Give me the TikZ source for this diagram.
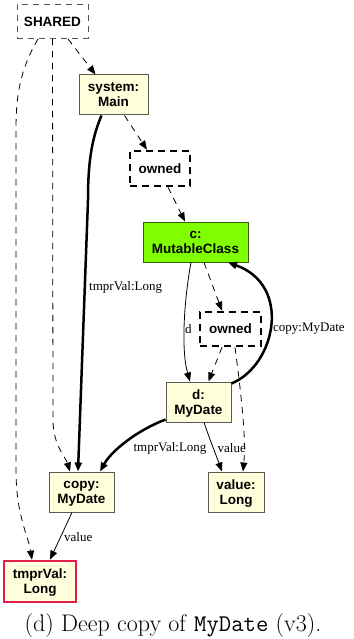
\documentclass[tikz,border=0pt]{standalone}
\usepackage{fontspec}
\setsansfont{Liberation Sans}
\newfontfamily\labfont{Liberation Serif}
\usetikzlibrary{arrows.meta}
\definecolor{ndfill}{HTML}{FFFFDC}
\definecolor{ndborder}{HTML}{5A5A50}
\definecolor{grfill}{HTML}{80FF00}
\definecolor{grborder}{HTML}{3A5A10}
\definecolor{redborder}{HTML}{E0204A}
\definecolor{shborder}{HTML}{555555}
\tikzset{
  base/.style={inner sep=0pt, align=center, font=\sffamily\bfseries\fontsize{13.5}{15}\selectfont, text depth=0pt},
  obj/.style={base, draw=ndborder, fill=ndfill, line width=1pt},
  objgreen/.style={base, draw=grborder, fill=grfill, line width=1pt},
  objred/.style={base, draw=redborder, fill=ndfill, line width=2.6pt},
  ownedbox/.style={base, draw=black, line width=2.6pt, dash pattern=on 7pt off 5pt},
  sharedbox/.style={base, draw=shborder, line width=0.9pt, dash pattern=on 6pt off 5pt},
  tip/.style={-{Triangle[length=9pt,width=7pt]}},
  thinedge/.style={tip, line width=0.8pt},
  thickedge/.style={tip, line width=2.5pt},
  dashedge/.style={tip, line width=0.8pt, dash pattern=on 6.5pt off 5.5pt},
  elabel/.style={font=\labfont\fontsize{13}{15}\selectfont, inner sep=1pt}
}
\begin{document}
\begin{tikzpicture}[x=1pt,y=-1pt]
\useasboundingbox (0,0) rectangle (353,639);
% nodes
\node[sharedbox, minimum width=71pt, minimum height=34pt] (shared) at (52.5,21.5) {SHARED};
\node[obj, minimum width=69pt, minimum height=40pt] (system) at (113.5,95) {system:\\Main};
\node[ownedbox, minimum width=60pt, minimum height=35pt] (owned1) at (160,168.5) {owned};
\node[objgreen, minimum width=105pt, minimum height=40pt] (c) at (195.5,242) {c:\\MutableClass};
\node[ownedbox, minimum width=61pt, minimum height=34pt] (owned2) at (230.5,329) {owned};
\node[obj, minimum width=65pt, minimum height=40pt] (d) at (198.5,402) {d:\\MyDate};
\node[obj, minimum width=65pt, minimum height=40pt] (copy) at (81.5,492) {copy:\\MyDate};
\node[obj, minimum width=56pt, minimum height=40pt] (value) at (236,492) {value:\\Long};
\node[objred, minimum width=72pt, minimum height=41pt] (tmpr) at (40,581.5) {tmprVal:\\Long};
% edges
\draw[dashedge] ([xshift=15.5pt]shared.south) -- ([xshift=-18pt]system.north);
\draw[dashedge] ([xshift=-14.5pt]shared.south) .. controls (20,70) and (16,95) .. (16,130) -- (16,470) .. controls (16,515) and (28,535) .. ([xshift=-8pt]tmpr.north);
\draw[dashedge] (shared.south) -- (53,420) .. controls (53,445) and (66,458) .. ([xshift=-11.5pt]copy.north);
\draw[thickedge] ([xshift=-12pt]system.south) .. controls (91,140) and (88,165) .. (88,200) -- ([xshift=-3.5pt]copy.north);
\node[elabel, anchor=west] (l1) at (88,287) {tmprVal:Long};
\draw[dashedge] ([xshift=11pt]system.south) -- ([xshift=-13pt]owned1.north);
\draw[dashedge] ([xshift=8pt]owned1.south) -- ([xshift=-10.5pt]c.north);
\draw[thinedge] ([xshift=-4.5pt]c.south) .. controls (184,300) and (181,350) .. ([xshift=-8.5pt]d.north);
\node[elabel, anchor=west] (l2) at (184,329) {d};
\draw[dashedge] ([xshift=8.5pt]c.south) -- ([xshift=-8.5pt]owned2.north);
\draw[dashedge] ([xshift=-8.5pt]owned2.south) -- ([xshift=10pt]d.north);
\draw[thickedge] ([yshift=-2pt]d.north east) .. controls (276,365) and (292,285) .. ([xshift=32.5pt]c.south);
\node[elabel, anchor=west] (l3) at (272,329) {copy:MyDate};
\draw[dashedge] ([xshift=4.5pt]owned2.south) .. controls (242,400) and (246,440) .. ([xshift=7pt]value.north);
\draw[thinedge] ([xshift=5.5pt]d.south) .. controls (210,440) and (216,455) .. ([xshift=-14pt]value.north);
\node[elabel, anchor=west] (l4) at (216.5,448) {value};
\draw[thickedge] ([yshift=3pt]d.south west) .. controls (138,430) and (112,450) .. ([xshift=18.5pt]copy.north);
\node[elabel] (l5) at (170,448) {tmprVal:Long};
\draw[thinedge] ([xshift=-9.5pt]copy.south) -- ([xshift=10pt]tmpr.north);
\node[elabel, anchor=west] (l6) at (63,537) {value};
% caption
\node[font=\fontsize{24}{28}\selectfont, inner sep=0pt] (cap) at (173,626) {(d) Deep copy of \texttt{MyDate} (v3).};
\end{tikzpicture}
\end{document}
